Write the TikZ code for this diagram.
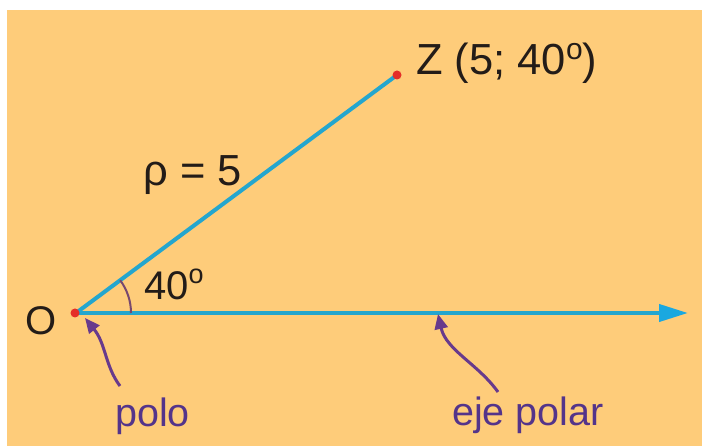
\documentclass[tikz,border=0pt]{standalone}
\usepackage{fontspec}
\setmainfont{Liberation Sans}
\usetikzlibrary{arrows.meta}
\definecolor{bgor}{RGB}{254,204,122}
\definecolor{lineblue}{RGB}{36,166,206}
\definecolor{tipblue}{RGB}{26,168,224}
\definecolor{ptrpurple}{RGB}{104,58,140}
\definecolor{txtpurple}{RGB}{84,52,138}
\definecolor{arcpurple}{RGB}{120,72,110}
\definecolor{dotred}{RGB}{228,46,40}
\definecolor{txtdark}{RGB}{35,28,24}
\newcommand{\degbig}[2]{\raisebox{#2pt}{\fontsize{#1}{#1}\selectfont o}}
\tikzset{
  dotnode/.style={circle,fill=dotred,inner sep=0pt,minimum size=9pt},
  rayline/.style={draw=lineblue,line width=4pt},
  axisline/.style={draw=lineblue,line width=4pt,-{Triangle[length=29pt,width=17pt,color=tipblue]}},
  pointer/.style={draw=ptrpurple,line width=3pt,-{Triangle[length=15pt,width=13pt]}},
  bigtxt/.style={anchor=base west,inner sep=0pt,text=txtdark,font=\fontsize{43.5}{43.5}\selectfont},
  midtxt/.style={anchor=base west,inner sep=0pt,text=txtdark,font=\fontsize{40}{40}\selectfont},
  purtxt/.style={anchor=base west,inner sep=0pt,text=txtpurple,font=\fontsize{39.5}{39.5}\selectfont},
  anglearc/.style={draw=arcpurple,line width=2pt}
}
\begin{document}
\begin{tikzpicture}[x=1pt,y=-1pt]
\useasboundingbox (0,0) rectangle (702,446);
\fill[white] (0,0) rectangle (702,446);
\fill[bgor] (7,10) rectangle (702,446);
% points
\coordinate (Oc) at (76,313);
\coordinate (Zc) at (397,75);
\coordinate (E) at (688,313);
% lines
\draw[axisline] (Oc) -- (E);
\draw[rayline] (Oc) -- (Zc);
% angle arc
\draw[anglearc] ([shift={(55,0)}]Oc) arc[start angle=0,end angle=-36.55,radius=55];
% dots
\node[dotnode] (O) at (75,313) {};
\node[dotnode] (Z) at (397,75) {};
% labels
\node[bigtxt] (zl) at (416,75) {Z (5; 40\degbig{30}{15})};
\node[bigtxt] (rl) at (143,186) {ρ = 5};
\node[midtxt] (al) at (144,300) {40\degbig{27}{16}};
\node[midtxt] (ol) at (25,335) {O};
\node[purtxt] (pl) at (115,427) {polo};
\node[purtxt] (el) at (452,425) {eje polar};
% pointers
\coordinate (ps) at (120,386);
\coordinate (pt) at (85,318);
\coordinate (es) at (498,392);
\coordinate (et) at (438,314);
\draw[pointer] (ps) .. controls (105,366) and (106,344) .. (pt);
\draw[pointer] (es) .. controls (478,364) and (446,350) .. (et);
\end{tikzpicture}
\end{document}
